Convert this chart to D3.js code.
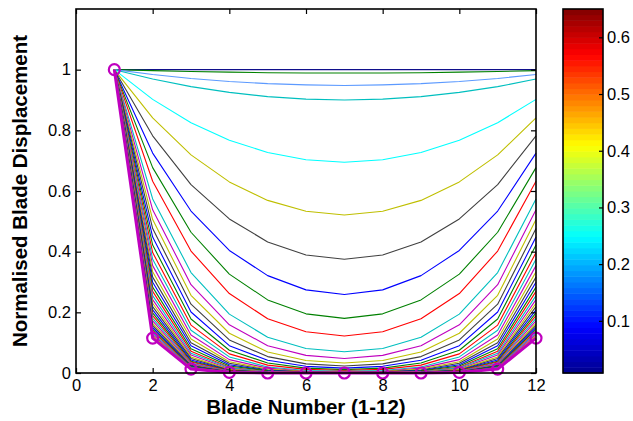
<!DOCTYPE html>
<html>
<head>
<meta charset="utf-8">
<script src="https://cdn.jsdelivr.net/npm/d3@7"></script>
<style>
  body { margin: 0; background: #fff; }
  svg text { font-family: "Liberation Sans", Arial, sans-serif; fill: #000; }
</style>
</head>
<body>
<svg id="chart" width="633" height="421"></svg>
<script>
// Blade positions around the disc
const blades = [1, 2, 3, 4, 5, 6, 7, 8, 9, 10, 11, 12];

// Normalised displacement of every blade, one row per case
const displacement = [
  [1, 1, 1, 1, 1, 1, 1, 1, 1, 1, 1, 1],
  [1, .997, .994, .992, .990, .989, .989, .989, .990, .992, .994, .997],
  [1, .984, .971, .961, .954, .950, .948, .950, .954, .961, .971, .984],
  [1, .969, .944, .925, .911, .903, .900, .903, .911, .925, .944, .969],
  [1, .902, .825, .767, .727, .703, .695, .703, .727, .767, .825, .902],
  [1, .841, .719, .630, .569, .533, .521, .533, .569, .630, .719, .841],
  [1, .782, .621, .508, .432, .389, .375, .389, .432, .508, .621, .782],
  [1, .725, .534, .404, .321, .274, .259, .274, .321, .404, .534, .725],
  [1, .677, .464, .326, .241, .195, .180, .195, .241, .326, .464, .677],
  [1, .632, .402, .262, .179, .136, .122, .136, .179, .262, .402, .632],
  [1, .574, .331, .194, .118, .081, .070, .081, .118, .194, .331, .574],
  [1, .538, .291, .159, .090, .058, .048, .058, .090, .159, .291, .538],
  [1, .506, .256, .131, .069, .041, .033, .041, .069, .131, .256, .506],
  [1, .476, .227, .109, .054, .030, .023, .030, .054, .109, .227, .476],
  [1, .448, .201, .090, .042, .022, .016, .022, .042, .090, .201, .448],
  [1, .422, .178, .075, .033, .016, .011, .016, .033, .075, .178, .422],
  [1, .397, .158, .063, .026, .012, .008, .012, .026, .063, .158, .397],
  [1, .375, .141, .053, .020, .008, .006, .008, .020, .053, .141, .375],
  [1, .354, .125, .044, .016, .006, .004, .006, .016, .044, .125, .354],
  [1, .334, .112, .037, .013, .005, .003, .005, .013, .037, .112, .334],
  [1, .316, .100, .032, .010, .004, .002, .004, .010, .032, .100, .316],
  [1, .299, .090, .027, .008, .003, .001, .003, .008, .027, .090, .299],
  [1, .283, .080, .023, .007, .002, .001, .002, .007, .023, .080, .283],
  [1, .269, .072, .019, .005, .002, .001, .002, .005, .019, .072, .269],
  [1, .255, .065, .017, .004, .001, .001, .001, .004, .017, .065, .255],
  [1, .242, .059, .014, .003, .001, .000, .001, .003, .014, .059, .242],
  [1, .230, .053, .012, .003, .001, .000, .001, .003, .012, .053, .230],
  [1, .219, .048, .010, .002, .001, .000, .001, .002, .010, .048, .219],
  [1, .208, .043, .009, .002, .000, .000, .000, .002, .009, .043, .208],
  [1, .198, .039, .008, .002, .000, .000, .000, .002, .008, .039, .198],
  [1, .189, .036, .007, .001, .000, .000, .000, .001, .007, .036, .189],
  [1, .180, .033, .006, .001, .000, .000, .000, .001, .006, .033, .180],
  [1, .172, .030, .005, .001, .000, .000, .000, .001, .005, .030, .172],
  [1, .164, .027, .004, .001, .000, .000, .000, .001, .004, .027, .164],
  [1, .157, .025, .004, .001, .000, .000, .000, .001, .004, .025, .157],
  [1, .150, .023, .003, .001, .000, .000, .000, .001, .003, .023, .150],
  [1, .144, .021, .003, .000, .000, .000, .000, .000, .003, .021, .144],
  [1, .138, .019, .003, .000, .000, .000, .000, .000, .003, .019, .138],
  [1, .132, .018, .002, .000, .000, .000, .000, .000, .002, .018, .132],
  [1, .127, .016, .002, .000, .000, .000, .000, .000, .002, .016, .127],
  [1, .122, .015, .002, .000, .000, .000, .000, .000, .002, .015, .122]
];

// Colours of the first cases, then the repeating line colour order
const leadColors = ["#10108c", "#008000", "#5c9aff", "#00bfbf", "#00ffff"];
const colorOrder = ["#0000ff", "#008000", "#ff0000", "#00bfbf", "#bf00bf", "#bfbf00", "#404040"];

// Most strongly localised case, drawn with markers
const localised = [1, .115, .013, .002, .000, .000, .000, .000, .000, .002, .013, .115];

const xTicks = [0, 2, 4, 6, 8, 10, 12];
const yTicks = [0, 0.2, 0.4, 0.6, 0.8, 1];
const cbTicks = [0.1, 0.2, 0.3, 0.4, 0.5, 0.6];
const cbRange = [0.008, 0.65];

// Jet colour map stops
const jetStops = [0, 0.125, 0.375, 0.625, 0.875, 1];
const jetColors = ["#00008f", "#0000ff", "#00ffff", "#ffff00", "#ff0000", "#800000"];

const lineColor = i => i < leadColors.length ? leadColors[i] : colorOrder[i % colorOrder.length];

const svg = d3.select("#chart");
const plot = { left: 76, right: 536, top: 9, bottom: 373 };
const fontTick = "16.5px";
const fontLabel = "20.5px";

const x = d3.scaleLinear().domain([0, 12]).range([plot.left, plot.right]);
const y = d3.scaleLinear().domain([0, 1.2]).range([plot.bottom, plot.top]);

const line = d3.line().x((d, i) => x(blades[i])).y(d => y(d));

const g = svg.append("g");

g.selectAll("path.case")
  .data(displacement)
  .join("path")
  .attr("class", "case")
  .attr("d", line)
  .attr("fill", "none")
  .attr("stroke", (d, i) => lineColor(i))
  .attr("stroke-width", 1.1)
  .attr("stroke-linejoin", "round");

g.append("path")
  .datum(localised)
  .attr("d", line)
  .attr("fill", "none")
  .attr("stroke", "#bf00bf")
  .attr("stroke-width", 3)
  .attr("stroke-linejoin", "round");

g.selectAll("circle.marker")
  .data(localised)
  .join("circle")
  .attr("class", "marker")
  .attr("cx", (d, i) => x(blades[i]))
  .attr("cy", d => y(d))
  .attr("r", 5.5)
  .attr("fill", "none")
  .attr("stroke", "#bf00bf")
  .attr("stroke-width", 2.2);

// Axes with inward ticks on all four sides
function styleAxis(sel) {
  sel.select(".domain").remove();
  sel.selectAll(".tick line").attr("stroke", "#000").attr("stroke-width", 1.2);
  sel.selectAll("text").style("font-size", fontTick).attr("fill", "#000");
}

svg.append("g")
  .attr("transform", `translate(0,${plot.bottom})`)
  .call(d3.axisBottom(x).tickValues(xTicks).tickSize(-5).tickPadding(6).tickFormat(d3.format("d")))
  .call(styleAxis);

svg.append("g")
  .attr("transform", `translate(0,${plot.top})`)
  .call(d3.axisTop(x).tickValues(xTicks).tickSize(-5).tickFormat(""))
  .call(styleAxis);

svg.append("g")
  .attr("transform", `translate(${plot.left},0)`)
  .call(d3.axisLeft(y).tickValues(yTicks).tickSize(-5).tickPadding(5).tickFormat(d => d3.format("")(+d.toFixed(1))))
  .call(styleAxis);

svg.append("g")
  .attr("transform", `translate(${plot.right},0)`)
  .call(d3.axisRight(y).tickValues(yTicks).tickSize(-5).tickFormat(""))
  .call(styleAxis);

svg.append("rect")
  .attr("x", plot.left).attr("y", plot.top)
  .attr("width", plot.right - plot.left).attr("height", plot.bottom - plot.top)
  .attr("fill", "none").attr("stroke", "#000").attr("stroke-width", 1.6);

svg.append("text")
  .attr("x", (plot.left + plot.right) / 2)
  .attr("y", 414)
  .attr("text-anchor", "middle")
  .style("font-size", fontLabel).style("font-weight", "bold")
  .text("Blade Number (1-12)");

svg.append("text")
  .attr("transform", `translate(27,${(plot.top + plot.bottom) / 2}) rotate(-90)`)
  .attr("text-anchor", "middle")
  .style("font-size", fontLabel).style("font-weight", "bold")
  .text("Normalised Blade Displacement");

// Colour bar
const cb = { left: 563, right: 603, top: 9, bottom: 373 };
const cbY = d3.scaleLinear().domain(cbRange).range([cb.bottom, cb.top]);
const jet = d3.scaleLinear().domain(jetStops).range(jetColors).clamp(true);
const nBands = 64;
const bands = d3.range(nBands);
const bandH = (cb.bottom - cb.top) / nBands;

svg.append("g").selectAll("rect")
  .data(bands)
  .join("rect")
  .attr("x", cb.left)
  .attr("y", i => cb.bottom - (i + 1) * bandH)
  .attr("width", cb.right - cb.left)
  .attr("height", bandH + 0.5)
  .attr("fill", i => jet((i + 0.5) / nBands));

svg.append("g")
  .attr("transform", `translate(${cb.right},0)`)
  .call(d3.axisRight(cbY).tickValues(cbTicks).tickSize(-4).tickPadding(4).tickFormat(d3.format(".1f")))
  .call(styleAxis);

svg.append("rect")
  .attr("x", cb.left).attr("y", cb.top)
  .attr("width", cb.right - cb.left).attr("height", cb.bottom - cb.top)
  .attr("fill", "none").attr("stroke", "#000").attr("stroke-width", 1.6);
</script>
</body>
</html>
